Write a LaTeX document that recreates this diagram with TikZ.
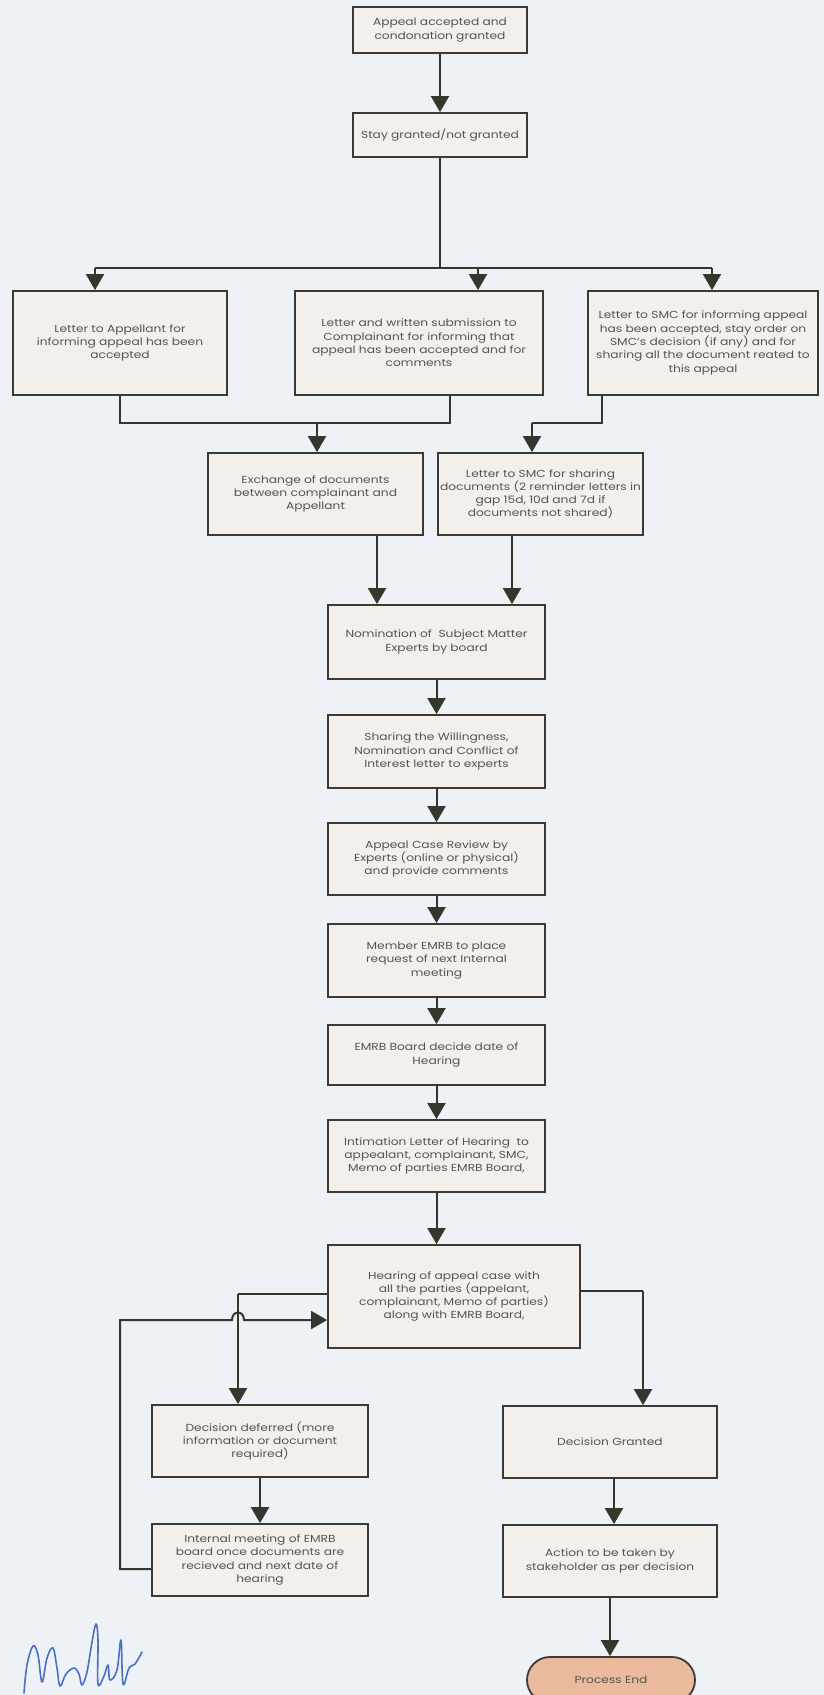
\documentclass[tikz,border=0pt]{standalone}
\usepackage{fontspec}
\setmainfont{Poppins}[FakeStretch=1.2]
\usetikzlibrary{arrows.meta,shapes.misc}
\definecolor{bg}{HTML}{EEF1F6}
\definecolor{boxfill}{HTML}{F3F0EB}
\definecolor{boxline}{HTML}{3B3A33}
\definecolor{lin}{HTML}{33372C}
\definecolor{txt}{HTML}{55554F}
\definecolor{endfill}{HTML}{EBB99B}
\definecolor{sigblue}{HTML}{4A6FC4}
\begin{document}
\begin{tikzpicture}[x=1pt,y=-1pt,
  box/.style={draw=boxline, line width=1.8pt, fill=boxfill, align=center, inner sep=2pt, text=txt, font=\fontsize{10.2}{13.3}\selectfont},
  conn/.style={draw=lin, line width=2pt},
  arr/.style={conn, -{Triangle[width=18pt,length=16pt]}},
  sig/.style={draw=sigblue, line width=1.6pt, line cap=round, line join=round}]
\useasboundingbox (0,0) rectangle (824,1695);
\fill[bg] (0,0) rectangle (824,1695);

% nodes
\node[box, minimum width=174pt, minimum height=46pt] (b1) at (440,30) {Appeal accepted and\\condonation granted};
\node[box, minimum width=174pt, minimum height=44pt] (b2) at (440,135) {Stay granted/not granted};
\node[box, minimum width=214pt, minimum height=104pt] (lft) at (120,343) {Letter to Appellant for\\informing appeal has been\\accepted};
\node[box, minimum width=248pt, minimum height=104pt] (mid) at (419,343) {Letter and written submission to\\Complainant for informing that\\appeal has been accepted and for\\comments};
\node[box, minimum width=230pt, minimum height=104pt] (rgt) at (703,343) {Letter to SMC for informing appeal\\has been accepted, stay order on\\SMC's decision (if any) and for\\sharing all the document reated to\\this appeal};
\node[box, minimum width=215pt, minimum height=82pt] (exch) at (315.5,494) {Exchange of documents\\between complainant and\\Appellant};
\node[box, minimum width=205pt, minimum height=82pt] (smcs) at (540.5,494) {Letter to SMC for sharing\\documents (2 reminder letters in\\gap 15d, 10d and 7d if\\documents not shared)};
\node[box, minimum width=217pt, minimum height=74pt] (nom) at (436.5,642) {Nomination of~ Subject Matter\\Experts by board};
\node[box, minimum width=217pt, minimum height=73pt] (shr) at (436.5,751.5) {Sharing the Willingness,\\Nomination and Conflict of\\Interest letter to experts};
\node[box, minimum width=217pt, minimum height=72pt] (rev) at (436.5,859) {Appeal Case Review by\\Experts (online or physical)\\and provide comments};
\node[box, minimum width=217pt, minimum height=73pt] (mem) at (436.5,960.5) {Member EMRB to place\\request of next Internal\\meeting};
\node[box, minimum width=217pt, minimum height=60pt] (emrb) at (436.5,1055) {EMRB Board decide date of\\Hearing};
\node[box, minimum width=217pt, minimum height=72pt] (intm) at (436.5,1156) {Intimation Letter of Hearing~ to\\appealant, complainant, SMC,\\Memo of parties EMRB Board,};
\node[box, minimum width=252pt, minimum height=103pt] (hear) at (454,1296.5) {Hearing of appeal case with\\all the parties (appelant,\\complainant, Memo of parties)\\along with EMRB Board,};
\node[box, minimum width=216pt, minimum height=72pt] (def) at (260,1441) {Decision deferred (more\\information or document\\required)};
\node[box, minimum width=216pt, minimum height=72pt] (intl) at (260,1560) {Internal meeting of EMRB\\board once documents are\\recieved and next date of\\hearing};
\node[box, minimum width=214pt, minimum height=72pt] (gran) at (610,1442) {Decision Granted};
\node[box, minimum width=214pt, minimum height=72pt] (act) at (610,1561) {Action to be taken by\\stakeholder as per decision};
\node[box, rounded rectangle, fill=endfill, minimum width=172pt, minimum height=46pt] (pend) at (611,1680) {Process End};

% connectors
\draw[arr] (b1.south) -- (b2.north);
\coordinate (jC) at (440,268);
\coordinate (jL) at (95,268);
\coordinate (jM) at (478,268);
\coordinate (jR) at (712,268);
\draw[conn] (b2.south) -- (jC);
\draw[conn] (jL) -- (jR);
\draw[arr] (jL) -- (jL |- lft.north);
\draw[arr] (jM) -- (jM |- mid.north);
\draw[arr] (jR) -- (jR |- rgt.north);

\coordinate (mL) at (120,423);
\coordinate (mM) at (450,423);
\coordinate (mX) at (317,423);
\draw[conn] (lft.south) -- (mL) -- (mM) -- (mM |- mid.south);
\draw[arr] (mX) -- (mX |- exch.north);
\coordinate (mR) at (602,423);
\coordinate (mS) at (532,423);
\draw[conn] (mR |- rgt.south) -- (mR) -- (mS);
\draw[arr] (mS) -- (mS |- smcs.north);

\coordinate (xE) at (377,0);
\coordinate (xS) at (512,0);
\draw[arr] (xE |- exch.south) -- (xE |- nom.north);
\draw[arr] (xS |- smcs.south) -- (xS |- nom.north);

\draw[arr] (nom.south) -- (shr.north);
\draw[arr] (shr.south) -- (rev.north);
\draw[arr] (rev.south) -- (mem.north);
\draw[arr] (mem.south) -- (emrb.north);
\draw[arr] (emrb.south) -- (intm.north);
\draw[arr] (intm.south) -- (intm.south |- hear.north);

\coordinate (hU) at (238,1294);
\draw[conn] (hear.west |- hU) -- (hU);
\draw[arr] (hU) -- (hU |- def.north);
\coordinate (lA) at (120,1569);
\coordinate (lB) at (120,1320);
\coordinate (hopA) at (232,1320);
\coordinate (hopB) at (244,1320);
\draw[arr] (intl.west |- lA) -- (lA) -- (lB) -- (hopA) .. controls (232,1310) and (244,1310) .. (hopB) -- (hear.west |- lB);

\coordinate (hR) at (643,1291);
\draw[conn] (hear.east |- hR) -- (hR);
\draw[arr] (hR) -- (hR |- gran.north);
\draw[arr] (def.south) -- (intl.north);
\coordinate (gA) at (614,0);
\draw[arr] (gA |- gran.south) -- (gA |- act.north);
\draw[arr] (act.south) -- (act.south |- pend.north);

% signature
\draw[sig] plot[smooth, tension=0.6] coordinates {(24,1693) (27,1665) (33,1646) (38,1655) (42,1682) (47,1658) (53,1648) (57,1668) (60,1686) (66,1674) (74,1668) (79,1674) (82,1685) (87,1672) (92,1642) (96,1624) (98,1640) (98,1684) (104,1676) (108,1665) (110,1680) (117,1670) (121,1640) (123,1684) (129,1668) (135,1664) (142,1652)};
\end{tikzpicture}
\end{document}
